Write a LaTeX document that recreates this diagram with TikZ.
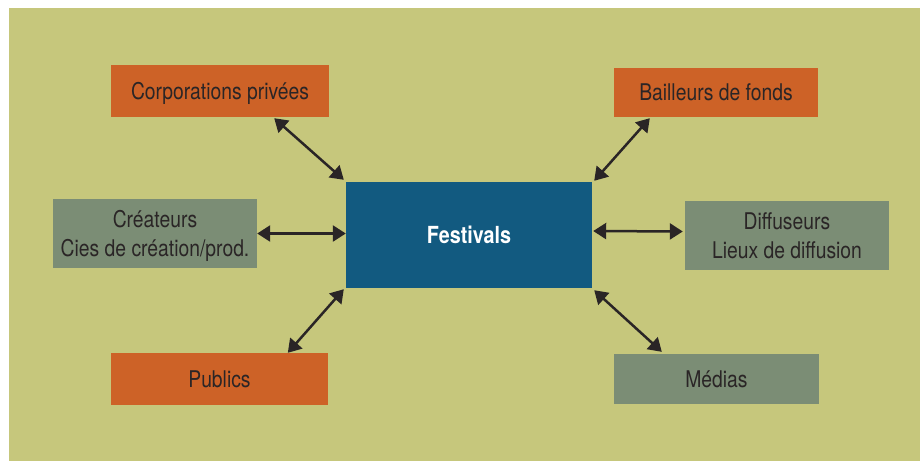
\documentclass[tikz,border=0pt]{standalone}
\usepackage{fontspec}
\setmainfont{TeX Gyre Heros}[FakeStretch=0.84]
\usetikzlibrary{arrows.meta, calc}
\definecolor{OliveBg}{RGB}{198, 199, 124}
\definecolor{RustOrange}{RGB}{205, 98, 39}
\definecolor{SageGray}{RGB}{123, 141, 117}
\definecolor{PetrolBlue}{RGB}{18, 90, 128}
\definecolor{InkDark}{RGB}{42, 37, 38}
\tikzset{
  box/.style={rectangle, inner sep=0pt, align=center, text=InkDark,
    text depth=0pt, font=\fontsize{23}{28.7}\selectfont},
  actor/.style={box, fill=RustOrange},
  venue/.style={box, fill=SageGray},
  hub/.style={box, fill=PetrolBlue, text=white,
    font=\fontsize{23.5}{28.7}\selectfont\bfseries},
  link/.style={{Triangle[length=13pt,width=16pt]}-{Triangle[length=13pt,width=16pt]},
    line width=2.5pt, draw=InkDark},
}

\begin{document}
\begin{tikzpicture}[x=1pt, y=-1pt]
  \useasboundingbox (0,0) rectangle (920,461);
  \fill[OliveBg] (9,8) rectangle (920,461);
  % centre
  \node[hub, minimum width=246pt, minimum height=106pt] (fest) at (469,235) {Festivals};
  % partners
  \node[actor, minimum width=218pt, minimum height=52pt] (corp) at (220,91) {Corporations privées};
  \node[actor, minimum width=204pt, minimum height=49pt] (bail) at (716,92.5) {Bailleurs de fonds};
  \node[venue, minimum width=204pt, minimum height=69pt] (crea) at (155,233.5) {Créateurs\\Cies de création/prod.};
  \node[venue, minimum width=204pt, minimum height=69pt] (diff) at (787,235.5) {Diffuseurs\\Lieux de diffusion};
  \node[actor, minimum width=217pt, minimum height=52pt] (pub) at (219.5,379) {Publics};
  \node[venue, minimum width=205pt, minimum height=50pt] (med) at (716.5,379) {Médias};
  % links
  \draw[link] ($(corp.south east)+(-55,1)$) -- ($(fest.north west)+(-2,-2)$);
  \draw[link] ($(bail.south west)+(36,1)$) -- ($(fest.north east)+(2,-1)$);
  \draw[link] (crea.east) -- (crea.east -| fest.west);
  \draw[link] ($(fest.east)+(1,-4)$) -- ($(diff.west)+(-2,-4)$);
  \draw[link] ($(fest.south west)+(-2,1)$) -- ($(pub.north west)+(177,0)$);
  \draw[link] ($(fest.south east)+(2,2)$) -- ($(med.north west)+(48,-2)$);
\end{tikzpicture}
\end{document}
